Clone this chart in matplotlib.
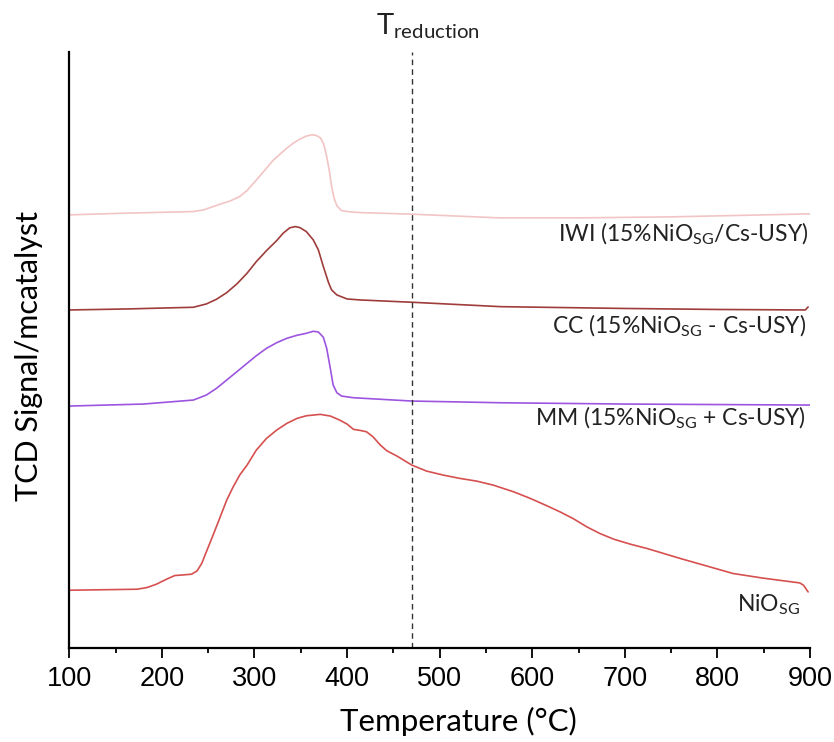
import matplotlib
matplotlib.use("Agg")
import matplotlib.pyplot as plt
from matplotlib.ticker import MultipleLocator

# ---------------- data ----------------
iwi_T = [100, 160, 234, 245, 263, 274, 284, 292, 299, 306, 313, 320, 328, 335,
         342, 349, 356, 362, 367, 371.5, 375, 378, 381, 383.3, 386, 389, 394,
         403, 414, 470, 565, 650, 750, 850, 900]
iwi_y = [433, 434.7, 436.3, 438, 443.7, 447, 451.3, 457.3, 464.7, 472, 479.7,
         487.3, 494, 499.7, 504.7, 508.7, 511.7, 513, 512.3, 509.7, 503, 491.3,
         476.3, 461.3, 449.7, 442, 437.3, 436, 435.3, 433.7, 430, 430, 431,
         433, 434]

cc_T = [100, 162, 234, 248, 259, 270, 281, 292, 302, 313, 324, 331, 338, 344,
        349, 356, 363.5, 369, 374.4, 380, 383.3, 389, 400, 414, 470, 566, 700,
        800, 895, 898]
cc_y = [338, 339, 340.7, 344, 348.7, 355.3, 364, 374.7, 386.3, 397.3, 407.3,
        414.7, 420, 421.3, 420.3, 416.3, 408, 398, 381.3, 365.3, 358, 353, 349,
        348, 345.7, 341.3, 339.5, 338.5, 338, 341]

mm_T = [100, 180, 234, 248, 259, 270, 281, 292, 302, 313, 324, 335, 346, 356,
        363.5, 369, 374.4, 378, 381.6, 385, 389, 394, 407, 470, 566, 700, 900]
mm_y = [242, 244, 248, 253, 259.7, 268, 276.3, 284.7, 292.3, 299.7, 305.3,
        309.7, 312.7, 314.7, 316.7, 316, 310.7, 299.7, 281.3, 263, 255.3, 252,
        250.3, 247, 245.3, 244, 243]

nio_T = [100, 173, 184, 194, 205, 214, 223, 232, 238, 243, 248, 256, 263, 270,
         277, 284, 292, 302, 313, 324, 335, 346, 356, 371, 382, 392, 400, 407,
         414, 421, 428, 436, 443, 454, 470, 486, 504, 522, 540, 558, 580, 598,
         616, 630, 644, 659, 673, 688, 706, 724, 742, 760, 817, 850, 889, 893, 898]
nio_y = [58, 59, 60.7, 64, 69, 72.7, 73.3, 74, 77.3, 84.7, 96.3, 114.7, 131.3,
         148, 161.3, 173, 183, 198, 209.7, 218, 224.7, 229.7, 232.3, 233.7, 232,
         228, 224, 218.7, 217.7, 216.3, 211.3, 203, 197.3, 192, 183, 177, 173,
         169.7, 167, 163, 156.3, 149.7, 142.3, 136.3, 129.7, 121.3, 114.7, 109,
         104, 99.7, 94.7, 89.7, 74.7, 70, 65.3, 63, 56.3]

series_labels = ["IWI (15%NiO$_{\\mathregular{SG}}$/Cs-USY)",
                 "CC (15%NiO$_{\\mathregular{SG}}$ - Cs-USY)",
                 "MM (15%NiO$_{\\mathregular{SG}}$ + Cs-USY)",
                 "NiO$_{\\mathregular{SG}}$"]
t_reduction = 470
x_ticks = [100, 200, 300, 400, 500, 600, 700, 800, 900]

# ---------------- figure ----------------
plt.rcParams['font.family'] = ['Lato', 'DejaVu Sans']
plt.rcParams['mathtext.default'] = 'regular'

fig = plt.figure(figsize=(8.34, 7.42), dpi=100)
ax = fig.add_axes([0.0831, 0.1263, 0.9712 - 0.0831, 0.9303 - 0.1263])

colors = ['#f2c4c4', '#9e3d3a', '#9d55e0', '#d65050']
for (T, y), c in zip([(iwi_T, iwi_y), (cc_T, cc_y), (mm_T, mm_y), (nio_T, nio_y)], colors):
    ax.plot(T, y, color=c, lw=1.2, solid_joinstyle='round', solid_capstyle='round')

ax.axvline(t_reduction, color='#333333', lw=1.0, ls=(0, (4, 3)))

ax.set_xlim(100, 900)
ax.set_ylim(0, 596)

for s in ['top', 'right']:
    ax.spines[s].set_visible(False)
for s in ['left', 'bottom']:
    ax.spines[s].set_linewidth(1.6)

ax.set_yticks([])
ax.set_xticks(x_ticks)
ax.xaxis.set_minor_locator(MultipleLocator(50))
ax.tick_params(axis='x', which='major', direction='out', length=7, width=1.3,
               labelsize=19.5, pad=6)
ax.tick_params(axis='x', which='minor', direction='out', length=3.6, width=1.3)
for lab in ax.get_xticklabels():
    lab.set_family(['Liberation Sans', 'DejaVu Sans'])

ax.set_xlabel('Temperature (°C)', fontsize=22.5)
ax.xaxis.set_label_coords(0.525, -0.098)
ax.set_ylabel('TCD Signal/mcatalyst', fontsize=22)
ax.yaxis.set_label_coords(-0.036, 0.49)

lab_fs = 16.5
ax.text(898, 414, series_labels[0], ha='right', va='center', fontsize=lab_fs, color='#222222')
ax.text(896, 322, series_labels[1], ha='right', va='center', fontsize=lab_fs, color='#222222')
ax.text(896, 230, series_labels[2], ha='right', va='center', fontsize=lab_fs, color='#222222')
ax.text(889, 44, series_labels[3], ha='right', va='center', fontsize=lab_fs, color='#222222')

ax.text(431, 613, 'T$_{\\mathregular{reduction}}$', ha='left', va='baseline',
        fontsize=21, color='#222222', clip_on=False)

fig.savefig('out.png', dpi=100)
